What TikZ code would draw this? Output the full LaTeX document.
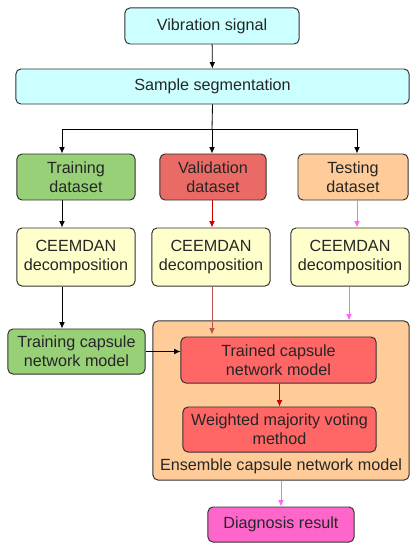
\documentclass[tikz,border=0pt]{standalone}
\usepackage{fontspec}
\setmainfont{Liberation Sans}
\usepackage{xcolor}
\usepackage{tikz}
\usetikzlibrary{arrows.meta,positioning}

\definecolor{cyanfill}{HTML}{CCFFFF}
\definecolor{greenfill}{HTML}{97D077}
\definecolor{valfill}{HTML}{EA6B66}
\definecolor{orangefill}{HTML}{FFCC99}
\definecolor{yellowfill}{HTML}{FFFFCC}
\definecolor{redfill}{HTML}{FF6666}
\definecolor{pinkfill}{HTML}{FF66CC}
\definecolor{redline}{HTML}{CC0000}
\definecolor{brownline}{HTML}{B85450}
\definecolor{pinkline}{HTML}{FF66FF}
\definecolor{boxline}{HTML}{333333}

\begin{document}
\begin{tikzpicture}[
        x=0.025cm, y=-0.025cm,
        font=\fontsize{11.5}{13.5}\selectfont,
        box/.style={draw=boxline, line width=0.7pt, rounded corners=3.5pt, align=center, inner sep=1pt, text=black!85},
        arrow/.style={-{Latex[length=4.5pt,width=4pt]}, line width=0.6pt},
        redarrow/.style={arrow, draw=redline, fill=redline},
        pinkarrow/.style={arrow, draw=pinkline, fill=pinkline}
    ]
        \useasboundingbox (0,0) rectangle (416,550);

        \node[box, fill=cyanfill, minimum width=4.35cm, minimum height=0.9cm] (signal) at (212,26) {Vibration signal};
        \node[box, fill=cyanfill, minimum width=9.825cm, minimum height=0.875cm] (segment) at (212.5,86.5) {Sample segmentation};

        \node[box, fill=greenfill, minimum width=2.95cm, minimum height=1.15cm] (trainset) at (76,177) {Training\\dataset};
        \node[box, fill=valfill, minimum width=2.65cm, minimum height=1.15cm] (valset) at (213,177) {Validation\\dataset};
        \node[box, fill=orangefill, minimum width=2.75cm, minimum height=1.15cm] (testset) at (353,177) {Testing\\dataset};

        \node[box, fill=yellowfill, minimum width=2.95cm, minimum height=1.45cm] (ceemdanA) at (76,257) {CEEMDAN\\decomposition};
        \node[box, fill=yellowfill, minimum width=2.95cm, minimum height=1.45cm] (ceemdanB) at (211,257) {CEEMDAN\\decomposition};
        \node[box, fill=yellowfill, minimum width=2.95cm, minimum height=1.45cm] (ceemdanC) at (350,257) {CEEMDAN\\decomposition};

        \node[box, fill=greenfill, minimum width=3.425cm, minimum height=1.125cm] (traincaps) at (76.5,351.5) {Training capsule\\network model};

        \node[box, fill=orangefill, minimum width=6.4cm, minimum height=3.975cm] (ensemble) at (281,400.5) {};
        \node[box, fill=redfill, minimum width=4.875cm, minimum height=1.15cm] (trained) at (278.5,360) {Trained capsule\\network model};
        \node[box, fill=redfill, minimum width=4.825cm, minimum height=1.125cm] (voting) at (279.5,429.5) {Weighted majority voting\\method};
        \node[text=black!85] (enslabel) at (281,466) {Ensemble capsule network model};

        \node[box, fill=pinkfill, minimum width=3.65cm, minimum height=0.875cm] (diagnosis) at (281,524.5) {Diagnosis result};

        % split into the three datasets
        \coordinate (split) at (212,129);
        \draw[arrow] (signal) -- (segment);
        \draw[line width=0.6pt] (segment.south) -- (split);
        \draw[arrow] (split) -| ([xshift=-0.35cm]trainset.north);
        \draw[arrow] (split) -- (split |- valset.north);
        \draw[arrow] (split) -| ([xshift=0.1cm]testset.north);

        % training branch
        \draw[arrow] ([xshift=-0.35cm]trainset.south) -- ([xshift=-0.35cm]trainset.south |- ceemdanA.north);
        \draw[arrow] ([xshift=-0.35cm]ceemdanA.south) -- ([xshift=-0.35cm]ceemdanA.south |- traincaps.north);
        \draw[arrow] (traincaps.east) -- (traincaps.east -| trained.west);

        % validation branch
        \draw[redarrow] (split |- valset.south) -- (split |- ceemdanB.north);
        \draw[arrow, draw=brownline, fill=redline] (split |- ceemdanB.south) -- ([yshift=1.5pt]split |- trained.north);
        \draw[redarrow] (trained.south -| voting.north) -- (voting.north);

        % testing branch
        \draw[pinkarrow] ([xshift=0.1cm]testset.south) -- ([xshift=0.1cm]testset.south |- ceemdanC.north);
        \draw[pinkarrow] ([xshift=-0.025cm]ceemdanC.south) -- ([xshift=-0.025cm]ceemdanC.south |- ensemble.north);
        \draw[pinkarrow] (ensemble.south) -- (diagnosis.north);
    \end{tikzpicture}
\end{document}
